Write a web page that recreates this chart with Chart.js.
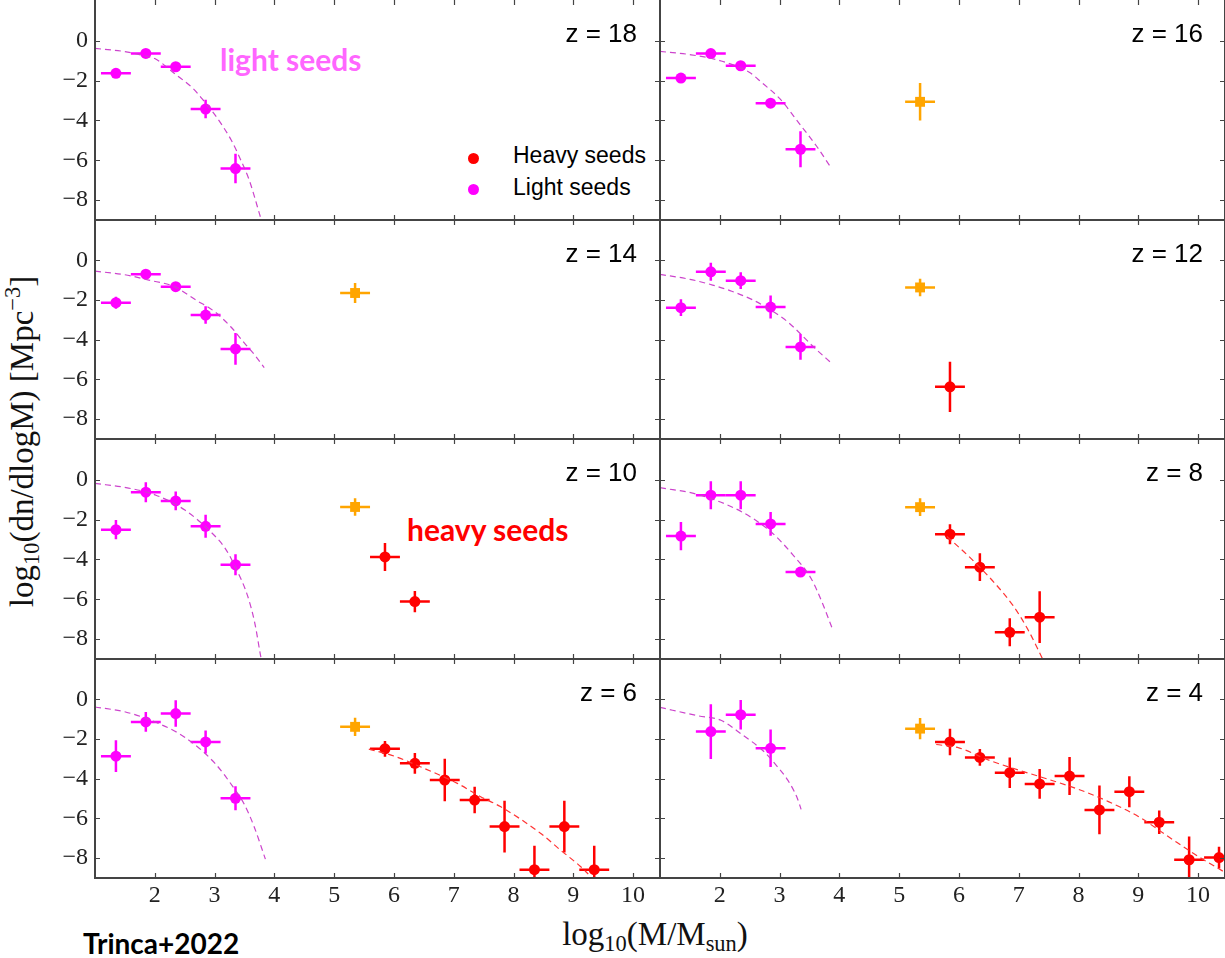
<!DOCTYPE html>
<html lang="en">

<head>
    <meta charset="UTF-8">
    <title>BH mass function</title>
    <style>
        body {
            margin: 0;
            background: #fff;
            width: 1225px;
            height: 958px;
            position: relative;
            overflow: hidden;
            font-family: "Liberation Sans", Arial, sans-serif;
        }

        .panel {
            position: absolute;
        }

        .zlab {
            position: absolute;
            font-size: 26px;
            line-height: 26px;
            color: #000;
            white-space: nowrap;
        }

        .note {
            position: absolute;
            font-family: Lato, "Open Sans", sans-serif;
            font-weight: bold;
            font-size: 30px;
            line-height: 30px;
            white-space: nowrap;
        }

        .legend {
            position: absolute;
            font-size: 23px;
            line-height: 23px;
            white-space: nowrap;
        }

        .dot {
            position: absolute;
            width: 11px;
            height: 11px;
            border-radius: 50%;
        }

        .axtitle {
            position: absolute;
            font-family: "Liberation Serif", "Times New Roman", serif;
            font-size: 33px;
            line-height: 33px;
            color: #111;
            white-space: nowrap;
            text-align: center;
        }

        .axtitle sub,
        .axtitle sup {
            font-size: 0.68em;
            line-height: 0;
        }

        .axtitle sub {
            vertical-align: -0.28em;
        }

        .axtitle sup {
            vertical-align: 0.55em;
        }
    </style>
    <script src="https://cdn.jsdelivr.net/npm/chart.js"></script>
</head>

<body>

    <div class="axtitle" style="left:455px; top:918px; width:400px;">log<sub>10</sub>(M/M<sub>sun</sub>)</div>
    <div class="axtitle" style="left:-228px; top:425px; width:500px; transform:rotate(-90deg);">log<sub>10</sub>(dn/dlogM) [Mpc<sup>&minus;3</sup>]</div>

    <div class="note" style="left:220px; top:44px; color:#ff66ff;">light seeds</div>
    <div class="note" style="left:407px; top:514px; color:#ff0000;">heavy seeds</div>
    <div class="note" style="left:83px; top:929px; color:#000; font-size:28px; line-height:28px;">Trinca+2022</div>

    <div class="dot" style="left:468px; top:153px; background:#ff0000;"></div>
    <div class="legend" style="left:513px; top:144px;">Heavy seeds</div>
    <div class="dot" style="left:468px; top:184px; background:#ff00ff;"></div>
    <div class="legend" style="left:513px; top:176px;">Light seeds</div>

    <script>
        // panels run left-to-right, top-to-bottom
        const redshifts = [18, 16, 14, 12, 10, 8, 6, 4];

        const lightX = [1.35, 1.85, 2.35, 2.85, 3.35];
        const heavyX = [5.85, 6.35, 6.85, 7.35, 7.85, 8.35, 8.85, 9.35, 9.85, 10.35];
        const orangeX = [5.35];
        const binHalfWidth = 0.25;

        const xTickValues = [2, 3, 4, 5, 6, 7, 8, 9, 10];
        const yTickValues = [-8, -6, -4, -2, 0];

        const lightY = [
            [-1.64, -0.64, -1.31, -3.43, -6.42],
            [-1.88, -0.65, -1.26, -3.14, -5.45],
            [-2.13, -0.69, -1.32, -2.75, -4.46],
            [-2.38, -0.57, -1.02, -2.35, -4.36],
            [-2.51, -0.63, -1.07, -2.34, -4.27],
            [-2.83, -0.78, -0.78, -2.22, -4.64],
            [-2.86, -1.13, -0.71, -2.14, -4.98],
            [null, -1.62, -0.77, -2.46, null]
        ];
        const lightErr = [
            [0.1, 0.1, 0.1, 0.46, 0.74],
            [0.1, 0.1, 0.1, 0.15, 0.9],
            [0.3, 0.1, 0.1, 0.44, 0.8],
            [0.42, 0.45, 0.42, 0.58, 0.65],
            [0.48, 0.5, 0.47, 0.58, 0.53],
            [0.71, 0.7, 0.7, 0.6, 0.25],
            [0.8, 0.5, 0.67, 0.58, 0.6],
            [0, 1.38, 0.74, 0.95, 0]
        ];

        const orangeY = [null, -3.07, -1.64, -1.36, -1.37, -1.38, -1.38, -1.47];
        const orangeErr = [0, 0.94, 0.5, 0.44, 0.44, 0.45, 0.46, 0.54];

        const heavyY = [
            [],
            [],
            [],
            [-6.37],
            [-3.88, -6.12],
            [-2.74, -4.39, -7.66, -6.9],
            [-2.49, -3.22, -4.06, -5.07, -6.41, -8.58, -6.41, -8.58],
            [-2.14, -2.92, -3.69, -4.26, -3.86, -5.57, -4.65, -6.19, -8.08, -7.97]
        ];
        const heavyErr = [
            [],
            [],
            [],
            [1.27],
            [0.7, 0.53],
            [0.5, 0.7, 0.7, 1.3],
            [0.4, 0.52, 1.07, 0.67, 1.3, 1.2, 1.3, 1.2],
            [0.67, 0.42, 0.77, 0.75, 0.96, 1.23, 0.78, 0.59, 1.17, 0.55]
        ];

        // dashed model curves
        const lightFitX = [
            [1.0, 1.5, 1.85, 2.0, 2.35, 2.64, 2.8, 3.0, 3.28, 3.44, 3.58, 3.75, 3.8],
            [1.0, 1.5, 2.0, 2.5, 2.7, 3.0, 3.34, 3.62, 3.85],
            [1.0, 1.5, 1.9, 2.33, 2.69, 3.0, 3.27, 3.5, 3.67, 3.83],
            [1.0, 1.5, 1.88, 2.2, 2.56, 2.85, 3.13, 3.59, 3.88],
            [1.0, 1.54, 2.02, 2.51, 2.94, 3.18, 3.36, 3.55, 3.67, 3.77, 3.8],
            [1.0, 1.64, 2.37, 2.86, 3.23, 3.53, 3.71, 3.88],
            [1.0, 1.51, 2.0, 2.5, 3.0, 3.33, 3.5, 3.66, 3.85],
            [1.0, 1.63, 2.02, 2.36, 2.75, 2.97, 3.14, 3.3, 3.36]
        ];
        const lightFitY = [
            [-0.39, -0.55, -0.78, -0.9, -1.7, -2.4, -2.95, -3.7, -5.0, -6.0, -7.0, -8.68, -9.2],
            [-0.54, -0.7, -1.0, -1.6, -2.1, -2.9, -4.2, -5.3, -6.33],
            [-0.54, -0.72, -0.99, -1.32, -2.0, -2.58, -3.34, -4.17, -4.76, -5.4],
            [-0.7, -0.95, -1.24, -1.55, -2.0, -2.5, -3.08, -4.42, -5.21],
            [-0.19, -0.41, -0.78, -1.54, -2.63, -3.46, -4.47, -5.81, -7.16, -8.84, -9.3],
            [-0.4, -0.75, -1.62, -2.63, -3.8, -4.97, -6.15, -7.46],
            [-0.38, -0.63, -1.13, -1.9, -3.2, -4.5, -5.3, -6.4, -8.05],
            [-0.4, -0.82, -1.05, -1.74, -2.66, -3.41, -4.08, -5.0, -5.54]
        ];
        const heavyFitX = [
            null, null, null, null, null,
            [5.8, 6.2, 6.6, 6.9, 7.15, 7.4],
            [5.58, 6.0, 6.44, 7.06, 7.45, 7.78, 8.45, 8.78, 9.12, 9.25],
            [5.62, 6.0, 6.5, 7.0, 7.5, 8.0, 8.5, 9.0, 9.5, 10.0, 10.45]
        ];
        const heavyFitY = [
            null, null, null, null, null,
            [-2.85, -3.95, -5.2, -6.3, -7.5, -9.0],
            [-2.5, -2.85, -3.39, -4.23, -4.9, -5.4, -6.74, -7.58, -8.42, -8.8],
            [-2.27, -2.44, -3.06, -3.56, -4.03, -4.53, -5.15, -5.9, -6.91, -7.91, -8.72]
        ];

        const MAGENTA = '#ff00ff';
        const RED = '#ff0000';
        const ORANGE = '#ffa500';

        const rowEdges = [0, 220, 439, 659, 878];
        const yAxisWidth = 95;
        const xAxisHeight = 60;

        function pairs(xs, ys) {
            const out = [];
            xs.forEach((x, i) => {
                if (ys[i] !== null && ys[i] !== undefined) out.push({ x: x, y: ys[i] });
            });
            return out;
        }

        function errs(xs, ys, es) {
            const out = [];
            xs.forEach((x, i) => {
                if (ys[i] !== null && ys[i] !== undefined) out.push(es[i]);
            });
            return out;
        }

        // no extra room for overhanging tick labels
        function noPadding(s) {
            s.paddingTop = 0;
            s.paddingBottom = 0;
            s.paddingLeft = 0;
            s.paddingRight = 0;
        }

        // error bars: +/- half bin in x, +/- err in y
        const errorBars = {
            id: 'errorBars',
            beforeDatasetsDraw(chart) {
                const ctx = chart.ctx;
                const area = chart.chartArea;
                const xs = chart.scales.x, ys = chart.scales.y;
                ctx.save();
                ctx.beginPath();
                ctx.rect(area.left, area.top, area.right - area.left, area.bottom - area.top);
                ctx.clip();
                chart.data.datasets.forEach(ds => {
                    if (!ds.yErr) return;
                    ctx.strokeStyle = ds.backgroundColor;
                    ctx.lineWidth = 2.5;
                    ds.data.forEach((p, i) => {
                        const e = ds.yErr[i];
                        ctx.beginPath();
                        ctx.moveTo(xs.getPixelForValue(p.x - binHalfWidth), ys.getPixelForValue(p.y));
                        ctx.lineTo(xs.getPixelForValue(p.x + binHalfWidth), ys.getPixelForValue(p.y));
                        if (e > 0) {
                            ctx.moveTo(xs.getPixelForValue(p.x), ys.getPixelForValue(p.y + e));
                            ctx.lineTo(xs.getPixelForValue(p.x), ys.getPixelForValue(p.y - e));
                        }
                        ctx.stroke();
                    });
                });
                ctx.restore();
            }
        };

        // box around each panel with inward ticks on all four sides
        const frame = {
            id: 'frame',
            afterDraw(chart, args, opts) {
                const ctx = chart.ctx;
                const a = chart.chartArea;
                const xs = chart.scales.x, ys = chart.scales.y;
                const len = 5;
                ctx.save();
                ctx.strokeStyle = '#444';
                ctx.lineWidth = 2;
                ctx.beginPath();
                ctx.moveTo(a.left, a.top);
                ctx.lineTo(a.left, a.bottom);
                ctx.lineTo(a.right, a.bottom);
                ctx.lineTo(a.right, a.top);
                if (opts.drawTop) ctx.lineTo(a.left, a.top);
                ctx.stroke();
                ctx.lineWidth = 1.2;
                ctx.beginPath();
                xTickValues.forEach(v => {
                    const px = Math.round(xs.getPixelForValue(v)) + 0.5;
                    ctx.moveTo(px, a.bottom);
                    ctx.lineTo(px, a.bottom - len);
                    ctx.moveTo(px, a.top);
                    ctx.lineTo(px, a.top + len);
                });
                yTickValues.forEach(v => {
                    const py = Math.round(ys.getPixelForValue(v)) + 0.5;
                    ctx.moveTo(a.left, py);
                    ctx.lineTo(a.left + len, py);
                    ctx.moveTo(a.right, py);
                    ctx.lineTo(a.right - len, py);
                });
                ctx.stroke();
                ctx.restore();
            }
        };

        function minusLabel(v) {
            return v < 0 ? '\u2212' + Math.abs(v) : String(v);
        }

        const tickFont = { family: "'Liberation Serif', 'Times New Roman', serif", size: 24 };

        function makePanel(i) {
            const col = i % 2;
            const row = Math.floor(i / 2);
            const isBottom = row === 3;
            const isLeft = col === 0;
            const areaH = rowEdges[row + 1] - rowEdges[row];

            const box = document.createElement('div');
            box.className = 'panel';
            box.style.left = isLeft ? '0px' : '660px';
            box.style.width = isLeft ? '660px' : '565px';
            box.style.top = rowEdges[row] + 'px';
            box.style.height = (areaH + (isBottom ? xAxisHeight : 0)) + 'px';
            const canvas = document.createElement('canvas');
            box.appendChild(canvas);
            document.body.appendChild(box);

            const datasets = [];
            datasets.push({
                type: 'line',
                data: pairs(lightFitX[i], lightFitY[i]),
                borderColor: '#cc44cc',
                borderWidth: 1.2,
                borderDash: [6, 4],
                pointRadius: 0,
                cubicInterpolationMode: 'monotone',
                fill: false
            });
            if (heavyFitX[i]) {
                datasets.push({
                    type: 'line',
                    data: pairs(heavyFitX[i], heavyFitY[i]),
                    borderColor: '#ff3333',
                    borderWidth: 1.2,
                    borderDash: [6, 4],
                    pointRadius: 0,
                    cubicInterpolationMode: 'monotone',
                    fill: false
                });
            }
            datasets.push({
                type: 'scatter',
                data: pairs(lightX, lightY[i]),
                yErr: errs(lightX, lightY[i], lightErr[i]),
                backgroundColor: MAGENTA,
                borderWidth: 0,
                pointRadius: 5.5
            });
            if (heavyY[i].length) {
                datasets.push({
                    type: 'scatter',
                    data: pairs(heavyX, heavyY[i]),
                    yErr: errs(heavyX, heavyY[i], heavyErr[i]),
                    backgroundColor: RED,
                    borderWidth: 0,
                    pointRadius: 5.5
                });
            }
            if (orangeY[i] !== null) {
                datasets.push({
                    type: 'scatter',
                    data: [{ x: orangeX[0], y: orangeY[i] }],
                    yErr: [orangeErr[i]],
                    backgroundColor: ORANGE,
                    borderWidth: 0,
                    pointStyle: 'rect',
                    pointRadius: 7
                });
            }

            new Chart(canvas, {
                data: { datasets: datasets },
                options: {
                    responsive: true,
                    maintainAspectRatio: false,
                    animation: false,
                    events: [],
                    layout: { padding: 0, autoPadding: false },
                    plugins: {
                        legend: { display: false },
                        tooltip: { enabled: false },
                        frame: { drawTop: row > 0 }
                    },
                    scales: {
                        x: {
                            type: 'linear',
                            min: 1,
                            max: 10.45,
                            display: isBottom,
                            afterBuildTicks: s => { s.ticks = xTickValues.map(v => ({ value: v })); },
                            afterFit: s => { s.height = isBottom ? xAxisHeight : 0; noPadding(s); },
                            grid: { display: false, drawTicks: false },
                            border: { display: false },
                            ticks: {
                                padding: 3,
                                color: '#222',
                                font: tickFont,
                                maxRotation: 0
                            }
                        },
                        y: {
                            type: 'linear',
                            min: -9,
                            max: 2.04,
                            display: isLeft,
                            afterBuildTicks: s => { s.ticks = yTickValues.map(v => ({ value: v })); },
                            afterFit: s => { s.width = isLeft ? yAxisWidth : 0; noPadding(s); },
                            grid: { display: false, drawTicks: false },
                            border: { display: false },
                            ticks: {
                                padding: 7,
                                color: '#222',
                                font: tickFont,
                                callback: minusLabel
                            }
                        }
                    }
                },
                plugins: [errorBars, frame]
            });

            // redshift tag in the upper right corner
            const tag = document.createElement('div');
            tag.className = 'zlab';
            tag.textContent = 'z = ' + redshifts[i];
            tag.style.right = isLeft ? (1225 - 637) + 'px' : '22px';
            tag.style.top = (rowEdges[row] + 20) + 'px';
            document.body.appendChild(tag);
        }

        redshifts.forEach((z, i) => makePanel(i));
    </script>

</body>

</html>
